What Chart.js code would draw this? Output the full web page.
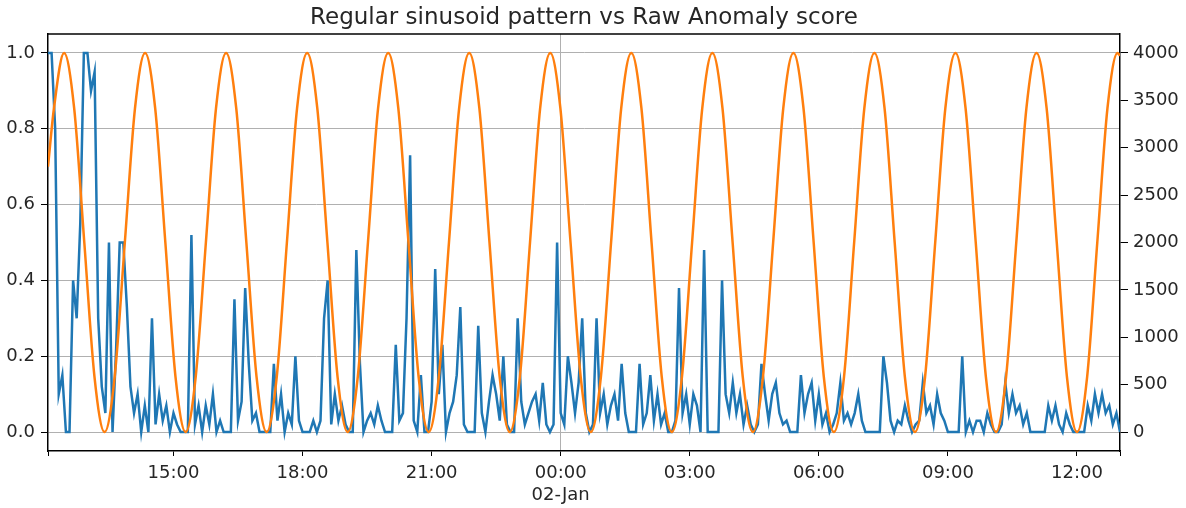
<!DOCTYPE html>
<html>
<head>
<meta charset="utf-8">
<script src="https://cdn.jsdelivr.net/npm/chart.js@4.4.1/dist/chart.umd.min.js"></script>
<style>
  html, body { margin: 0; padding: 0; background: #fff; }
</style>
</head>
<body>
<canvas id="myChart" width="1186" height="508"></canvas>
<script>
// time is in hours since 01-Jan 00:00
var xStart = 12.0833;   // 12:05
var xEnd = 37.0;        // 13:00 next day
var xTickHours = [15, 18, 21, 24, 27, 30, 33, 36];
var xTickLabels = ['15:00', '18:00', '21:00', ['00:00', '02-Jan'], '03:00', '06:00', '09:00', '12:00'];
var leftTicks = [0, 0.2, 0.4, 0.6, 0.8, 1.0];
var rightTicks = [0, 500, 1000, 1500, 2000, 2500, 3000, 3500, 4000];

// raw anomaly score, one value every 5 minutes from 12:05
var anomalyStepHours = 5 / 60;
var anomalyScores = [
  1.0, 1.0, 0.8, 0.1, 0.15, 0, 0, 0.4, 0.3, 0.55,
  1.0, 1.0, 0.9, 0.95, 0.3, 0.12, 0.05, 0.5, 0, 0.22,
  0.5, 0.5, 0.33, 0.12, 0.05, 0.1, 0, 0.07, 0, 0.3,
  0.02, 0.1, 0.03, 0.07, 0, 0.05, 0.02, 0, 0, 0,
  0.52, 0.02, 0.07, 0, 0.07, 0.02, 0.1, 0, 0.03, 0,
  0, 0, 0.35, 0.03, 0.08, 0.38, 0.18, 0.03, 0.05, 0,
  0, 0, 0, 0.18, 0.03, 0.1, 0, 0.05, 0.02, 0.2,
  0.03, 0, 0, 0, 0.03, 0, 0.03, 0.3, 0.4, 0.02,
  0.1, 0.03, 0.07, 0.02, 0, 0, 0.48, 0.18, 0, 0.03,
  0.05, 0.02, 0.07, 0.03, 0, 0, 0, 0.23, 0.03, 0.05,
  0.3, 0.73, 0.03, 0, 0.15, 0, 0, 0.08, 0.43, 0.1,
  0.23, 0, 0.05, 0.08, 0.15, 0.33, 0.02, 0, 0, 0,
  0.28, 0.05, 0, 0.08, 0.15, 0.1, 0.03, 0.2, 0.02, 0,
  0, 0.3, 0.08, 0.02, 0.05, 0.08, 0.1, 0.03, 0.13, 0.02,
  0, 0.02, 0.5, 0.05, 0.02, 0.2, 0.13, 0.05, 0.13, 0.3,
  0.05, 0, 0.02, 0.3, 0.05, 0.1, 0.02, 0.07, 0.1, 0.03,
  0.18, 0.05, 0, 0, 0, 0.18, 0.02, 0.05, 0.15, 0.03,
  0.1, 0.02, 0.05, 0, 0, 0.03, 0.38, 0.05, 0.1, 0.02,
  0.1, 0.07, 0, 0.48, 0, 0, 0, 0, 0.4, 0.1,
  0.05, 0.13, 0.05, 0.1, 0.02, 0.07, 0.02, 0, 0.02, 0.18,
  0.1, 0.03, 0.1, 0.13, 0.05, 0.02, 0.03, 0, 0, 0,
  0.15, 0.05, 0.1, 0.13, 0.03, 0.1, 0.02, 0.05, 0, 0.02,
  0.05, 0.13, 0.03, 0.05, 0.02, 0.05, 0.1, 0.03, 0, 0,
  0, 0, 0, 0.2, 0.13, 0.03, 0, 0.03, 0.02, 0.07,
  0.03, 0, 0.02, 0.03, 0.13, 0.05, 0.07, 0.02, 0.1, 0.05,
  0.03, 0, 0, 0, 0, 0.2, 0, 0.03, 0, 0.03,
  0.03, 0, 0.05, 0.02, 0, 0, 0.02, 0.13, 0.05, 0.1,
  0.05, 0.07, 0.02, 0.05, 0, 0, 0, 0, 0, 0.07,
  0.03, 0.07, 0.02, 0, 0.05, 0.02, 0, 0, 0, 0,
  0.07, 0.03, 0.1, 0.05, 0.1, 0.05, 0.07, 0.02, 0.05, 0
];

// regular sinusoid, points read at peaks, troughs and in between
var sineHours = [
  12.083, 12.221, 12.456, 12.692, 12.927, 13.163, 13.398,
  13.634, 13.869, 14.105, 14.340, 14.575, 14.811, 15.046, 15.282,
  15.517, 15.753, 15.988, 16.223, 16.459, 16.694, 16.930, 17.165,
  17.401, 17.636, 17.872, 18.107, 18.343, 18.578, 18.813, 19.049,
  19.284, 19.520, 19.755, 19.991, 20.226, 20.462, 20.697, 20.932,
  21.168, 21.403, 21.639, 21.874, 22.110, 22.345, 22.581, 22.816,
  23.052, 23.287, 23.522, 23.758, 23.993, 24.229, 24.464, 24.700,
  24.935, 25.171, 25.406, 25.641, 25.877, 26.112, 26.348, 26.583,
  26.819, 27.054, 27.290, 27.525, 27.761, 27.996, 28.231, 28.467,
  28.702, 28.938, 29.173, 29.409, 29.644, 29.880, 30.115, 30.350,
  30.586, 30.821, 31.057, 31.292, 31.528, 31.763, 31.999, 32.234,
  32.470, 32.705, 32.940, 33.176, 33.411, 33.647, 33.882, 34.118,
  34.353, 34.589, 34.824, 35.059, 35.295, 35.530, 35.766, 36.001,
  36.237, 36.472, 36.708, 36.943, 37.000
];
var sineValues = [
  2800, 3414, 4000, 3414, 2000, 586, 0,
  586, 2000, 3414, 4000, 3414, 2000, 586, 0,
  586, 2000, 3414, 4000, 3414, 2000, 586, 0,
  586, 2000, 3414, 4000, 3414, 2000, 586, 0,
  586, 2000, 3414, 4000, 3414, 2000, 586, 0,
  586, 2000, 3414, 4000, 3414, 2000, 586, 0,
  586, 2000, 3414, 4000, 3414, 2000, 586, 0,
  586, 2000, 3414, 4000, 3414, 2000, 586, 0,
  586, 2000, 3414, 4000, 3414, 2000, 586, 0,
  586, 2000, 3414, 4000, 3414, 2000, 586, 0,
  586, 2000, 3414, 4000, 3414, 2000, 586, 0,
  586, 2000, 3414, 4000, 3414, 2000, 586, 0,
  586, 2000, 3414, 4000, 3414, 2000, 586, 0,
  586, 2000, 3414, 4000, 3970
];

var anomalyPoints = anomalyScores.map(function (v, i) {
  return { x: xStart + i * anomalyStepHours, y: v };
});
var sinePoints = sineHours.map(function (h, i) {
  return { x: h, y: sineValues[i] };
});

Chart.defaults.font.family = "'DejaVu Sans', sans-serif";
Chart.defaults.color = '#262626';

// matplotlib style top spine
var frame = {
  id: 'frame',
  afterDraw: function (chart) {
    var a = chart.chartArea, c = chart.ctx;
    c.save();
    c.strokeStyle = '#000';
    c.lineWidth = 1.5;
    c.beginPath();
    c.moveTo(a.left, a.top);
    c.lineTo(a.right, a.top);
    c.stroke();
    c.restore();
  }
};

const ctx = document.getElementById('myChart');

var graphData = {
  type: 'line',
  data: {
    datasets: [{
      label: 'Raw Anomaly score',
      data: anomalyPoints,
      yAxisID: 'y',
      borderColor: '#1f77b4',
      borderWidth: 2.5,
      pointRadius: 0,
      tension: 0,
      order: 2
    },
    {
      label: 'Regular sinusoid pattern',
      data: sinePoints,
      yAxisID: 'y1',
      borderColor: '#ff7f0e',
      borderWidth: 2.5,
      pointRadius: 0,
      cubicInterpolationMode: 'monotone',
      order: 1
    }]
  },
  options: {
    responsive: false,
    animation: false,
    layout: { padding: 0 },
    plugins: {
      legend: { display: false },
      tooltip: { enabled: false },
      title: {
        display: true,
        fullSize: false,
        text: 'Regular sinusoid pattern vs Raw Anomaly score',
        color: '#262626',
        font: { size: 23, weight: 'normal', lineHeight: 1.2 },
        padding: { top: 4, bottom: 2.4 }
      }
    },
    scales: {
      x: {
        type: 'linear',
        min: xStart,
        max: xEnd,
        afterBuildTicks: function (scale) {
          scale.ticks = [xStart].concat(xTickHours, [xEnd]).map(function (v) { return { value: v }; });
        },
        afterFit: function (scale) { scale.height = 57; },
        ticks: {
          autoSkip: false,
          maxRotation: 0,
          padding: 6,
          font: { size: 18, lineHeight: 1.25 },
          callback: function (value) {
            var k = xTickHours.indexOf(value);
            return k >= 0 ? xTickLabels[k] : '';
          }
        },
        grid: {
          color: function (c) {
            return c.tick && c.tick.value === 24 ? '#b0b0b0' : 'rgba(0,0,0,0)';
          },
          tickColor: '#000',
          tickLength: 5,
          lineWidth: 1
        },
        border: { color: '#000', width: 1.5 }
      },
      y: {
        position: 'left',
        min: -0.05,
        max: 1.05,
        afterBuildTicks: function (scale) {
          scale.ticks = leftTicks.map(function (v) { return { value: v }; });
        },
        afterFit: function (scale) { scale.width = 48; },
        ticks: {
          padding: 6,
          font: { size: 18 },
          callback: function (value) { return value.toFixed(1); }
        },
        grid: { color: '#b0b0b0', tickColor: '#000', tickLength: 7, lineWidth: 1 },
        border: { color: '#000', width: 1.5 }
      },
      y1: {
        position: 'right',
        min: -200,
        max: 4200,
        afterBuildTicks: function (scale) {
          scale.ticks = rightTicks.map(function (v) { return { value: v }; });
        },
        afterFit: function (scale) { scale.width = 66; },
        ticks: {
          padding: 5,
          font: { size: 18 },
          callback: function (value) { return String(value); }
        },
        grid: { drawOnChartArea: false, tickColor: '#000', tickLength: 8 },
        border: { color: '#000', width: 1.5 }
      }
    }
  },
  plugins: [frame]
};

var myChart = new Chart(ctx, graphData);
</script>
</body>
</html>
